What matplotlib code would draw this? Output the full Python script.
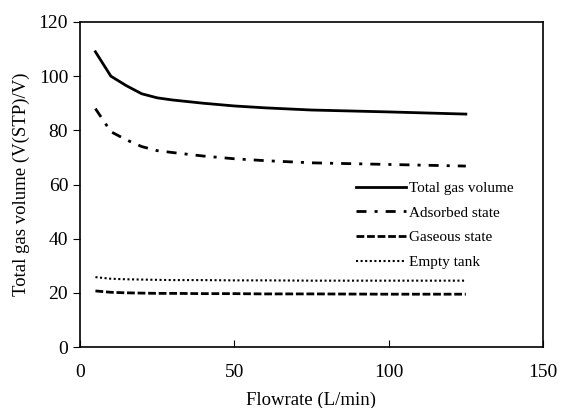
import matplotlib
matplotlib.use("Agg")
import matplotlib.pyplot as plt

plt.rcParams["font.family"] = ["Liberation Serif", "DejaVu Serif"]

flow = [5, 10, 15, 20, 25, 30, 40, 50, 60, 75, 100, 125]
total = [109, 100, 96.5, 93.5, 92, 91.2, 90, 89, 88.3, 87.5, 86.8, 86]
adsorbed = [88, 79.5, 76.5, 74, 72.5, 71.8, 70.5, 69.5, 68.8, 68, 67.4, 66.8]
gaseous = [20.7, 20.2, 20.0, 19.9, 19.8, 19.8, 19.7, 19.7, 19.6, 19.6, 19.5, 19.5]
empty = [25.8, 25.2, 25.0, 24.9, 24.8, 24.7, 24.7, 24.6, 24.6, 24.5, 24.5, 24.5]

fig = plt.figure(figsize=(5.61, 4.08), dpi=100)
ax = fig.add_axes([80 / 561, 1 - 347 / 408, 463 / 561, 325 / 408])

ax.plot(flow, total, "-", color="black", lw=2, label="Total gas volume")
ax.plot(flow, adsorbed, color="black", lw=2, dashes=(3.6, 2.9, 1.1, 2.9), label="Adsorbed state")
ax.plot(flow, gaseous, color="black", lw=2, dashes=(2.8, 1.0), label="Gaseous state")
ax.plot(flow, empty, color="black", lw=1.5, dashes=(1, 1.2), label="Empty tank")

ax.set_xlim(0, 150)
ax.set_ylim(0, 120)
ax.set_xticks([0, 50, 100, 150])
ax.set_yticks([0, 20, 40, 60, 80, 100, 120])
ax.tick_params(axis="x", direction="in", length=5, labelsize=14, pad=12)
ax.tick_params(axis="y", direction="out", length=5, labelsize=14)
for s in ax.spines.values():
    s.set_linewidth(1.2)
ax.set_xlabel("Flowrate (L/min)", fontsize=13.5, labelpad=8)
ax.set_ylabel("Total gas volume (V(STP)/V)", fontsize=13.5, labelpad=6)

ax.legend(loc="upper left", bbox_to_anchor=(0.596, 0.51), frameon=False,
          borderpad=0, borderaxespad=0,
          fontsize=11, handlelength=3.3, handletextpad=0.15, labelspacing=0.72)

fig.savefig("out.png", dpi=100)
